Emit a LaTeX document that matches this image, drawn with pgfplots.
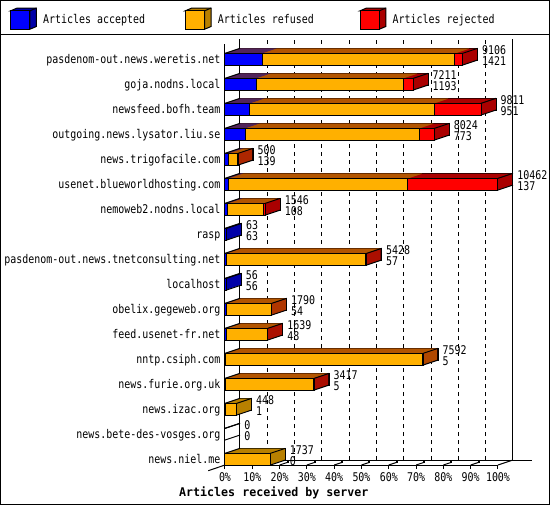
\documentclass[border=0pt]{standalone}
\usepackage{pgfplots}
\pgfplotsset{compat=1.18}
\usepackage{pgfplotstable}
\usepackage{fontspec}
\newfontfamily\chartfont[FakeStretch=0.83]{DejaVu Sans Mono}
\newfontfamily\chartbold[FakeStretch=0.97]{DejaVu Sans Mono}
\newcommand\cf{\chartfont\fontsize{12}{11.6}\selectfont}
\definecolor{acc}{RGB}{0,0,255}
\definecolor{dkacc}{RGB}{0,0,168}
\definecolor{ref}{RGB}{255,176,0}
\definecolor{dkref}{RGB}{184,128,0}
\definecolor{rej}{RGB}{255,0,0}
\definecolor{dkrej}{RGB}{170,0,0}

\pgfdeclareplotmark{rdiag}{%
  \pgfpathmoveto{\pgfpoint{0pt}{5.85pt}}\pgfpathlineto{\pgfpoint{15pt}{10.85pt}}%
  \pgfpathmoveto{\pgfpoint{0pt}{-5.85pt}}\pgfpathlineto{\pgfpoint{15pt}{-0.85pt}}%
  \pgfusepathqstroke}
\pgfdeclareplotmark{ldiag}{%
  \pgfpathmoveto{\pgfpoint{0pt}{5.85pt}}\pgfpathlineto{\pgfpoint{15pt}{10.85pt}}%
  \pgfusepathqstroke}

% pos = row from bottom; acc/ref/rej = articles accepted/refused/rejected
\pgfplotstableread{
pos acc ref rej total
16 1421 7390 295 9106
15 1193 5630 388 7211
14 951 7066 1794 9811
13 773 6680 571 8024
12 139 340 21 500
11 137 6869 3456 10462
10 108 1357 81 1546
9 63 0 0 63
8 57 5321 50 5428
7 56 0 0 56
6 54 1711 25 1790
5 48 1566 25 1639
4 5 7564 23 7592
3 5 3370 42 3417
2 1 447 0 448
1 0 0 0 0
0 0 1737 0 1737
}\data

\pgfplotsset{
  bars/.style={xbar, bar width=11.7pt, bar shift=0pt, unbounded coords=discard},
  cpy/.style={bars, draw=none, xshift=#1pt, yshift=#1*0.33333pt, forget plot},
  front/.style={bars, draw=black, line width=1pt},
  table/xrej/.style={x expr={\thisrow{rej}==0 ? nan : \thisrow{total}}, y=pos},
  table/xref/.style={x expr={\thisrow{ref}==0 ? nan : \thisrow{acc}+\thisrow{ref}}, y=pos},
  table/xacc/.style={x expr={\thisrow{acc}==0 ? nan : \thisrow{acc}}, y=pos},
}

\begin{document}
\begin{tikzpicture}
\useasboundingbox (0,0) rectangle (550pt,-505pt);
\begin{axis}[
  at={(225pt,-465pt)}, anchor=south west,
  scale only axis, width=273pt, height=420.5pt,
  xmin=0, xmax=10462, ymin=-0.232, ymax=16.588,
  clip=false, scaled x ticks=false,
  axis x line*=bottom, axis y line*=left,
  axis line style={black, line width=1pt, -},
  xtick={0,1046.2,2092.4,3138.6,4184.8,5231,6277.2,7323.4,8369.6,9415.8,10462},
  xticklabels={0\%,10\%,20\%,30\%,40\%,50\%,60\%,70\%,80\%,90\%,100\%},
  xtick align=outside, major tick length=4pt,
  x tick style={black, line width=1pt},
  ytick={0,...,16},
  yticklabels={news.niel.me,news.bete-des-vosges.org,news.izac.org,news.furie.org.uk,nntp.csiph.com,feed.usenet-fr.net,obelix.gegeweb.org,localhost,pasdenom-out.news.tnetconsulting.net,rasp,nemoweb2.nodns.local,usenet.blueworldhosting.com,news.trigofacile.com,outgoing.news.lysator.liu.se,newsfeed.bofh.team,goja.nodns.local,pasdenom-out.news.weretis.net},
  y tick style={draw=none},
  yticklabel style={font=\cf, anchor=base east, inner sep=0pt, xshift=-4.5pt, yshift=-4.3pt},
  xticklabel style={font=\cf, anchor=base, inner sep=0pt, yshift=-12.7pt},
  xlabel={Articles received by server},
  xlabel style={font=\chartbold\bfseries\fontsize{12}{14}\selectfont, at={(axis description cs:0.5,0)}, anchor=base, inner sep=0pt, xshift=-87.7pt, yshift=-31.5pt},
  legend columns=3, reverse legend, legend cell align=left,
  legend style={at={(axis description cs:-0.78755,1.0615)}, anchor=west, draw=none, fill=none, inner sep=0pt, font=\cf, nodes={inner sep=0pt},
    /tikz/every odd column/.append style={column sep=6.3pt},
    /tikz/every even column/.append style={column sep=11.7pt}},
]
% back wall, floor and grid
\draw[line width=1pt] ([xshift=15pt,yshift=5pt]axis cs:0,-0.232) -- ([xshift=15pt,yshift=5pt]axis cs:0,16.588);
\draw[line width=1pt] ([xshift=15pt,yshift=5pt]axis cs:10462,-0.232) -- ([xshift=15pt,yshift=5pt]axis cs:10462,16.588);
\draw[line width=1pt] ([xshift=15pt,yshift=5pt]axis cs:0,-0.232) -- ([xshift=33.7pt,yshift=5pt]axis cs:10462,-0.232);
\draw[line width=1pt] (axis cs:10462,-0.232) -- ([xshift=15pt,yshift=5pt]axis cs:10462,-0.232);
\draw[line width=1pt] ([xshift=-16.7pt,yshift=-5.7pt]axis cs:0,-0.232) -- (axis cs:0,-0.232);
\pgfplotsinvokeforeach{1046.2,2092.4,3138.6,4184.8,5231,6277.2,7323.4,8369.6,9415.8}{
  \draw[line width=1pt, dash pattern=on 4pt off 4pt] ([xshift=15pt,yshift=5pt]axis cs:#1,-0.232) -- ([xshift=15pt,yshift=5pt]axis cs:#1,16.588);
  \draw[line width=1pt] (axis cs:#1,-0.232) -- ([xshift=8pt,yshift=2.67pt]axis cs:#1,-0.232);
  \fill ([xshift=7pt,yshift=1.6pt]axis cs:#1,-0.232) rectangle ([xshift=9pt,yshift=3.6pt]axis cs:#1,-0.232);
}
% 3D depth of the bars (back copy with outline, then copies towards the front)
\addplot[cpy=15, draw=black, line width=1pt, fill=dkrej] table[xrej]{\data};
\addplot[cpy=15, draw=black, line width=1pt, fill=dkref] table[xref]{\data};
\addplot[cpy=15, draw=black, line width=1pt, fill=dkacc] table[xacc]{\data};
\pgfplotsinvokeforeach{14,13,...,1}{
  \addplot[cpy=#1, fill=dkrej] table[xrej]{\data};
  \addplot[cpy=#1, fill=dkref] table[xref]{\data};
  \addplot[cpy=#1, fill=dkacc] table[xacc]{\data};
}
% front faces
\addplot[front, fill=rej,
  legend image code/.code={
    \draw[line width=1pt, fill=dkrej] (0pt,9.2pt) -- (6.3pt,11.9pt) -- (25.7pt,11.9pt) -- (25.7pt,-6.5pt) -- (19.3pt,-9.2pt) -- (19.3pt,9.2pt) -- cycle;
    \draw[line width=1pt] (19.3pt,9.2pt) -- (25.7pt,11.9pt);
    \draw[line width=1pt, fill=rej] (0pt,-9.2pt) rectangle (19.3pt,9.2pt);}
  ] table[xrej]{\data};
\addlegendentry{\makebox[130pt][l]{Articles rejected}}
\addplot[front, fill=ref,
  legend image code/.code={
    \draw[line width=1pt, fill=dkref] (0pt,9.2pt) -- (6.3pt,11.9pt) -- (25.7pt,11.9pt) -- (25.7pt,-6.5pt) -- (19.3pt,-9.2pt) -- (19.3pt,9.2pt) -- cycle;
    \draw[line width=1pt] (19.3pt,9.2pt) -- (25.7pt,11.9pt);
    \draw[line width=1pt, fill=ref] (0pt,-9.2pt) rectangle (19.3pt,9.2pt);}
  ] table[xref]{\data};
\addlegendentry{\makebox[130pt][l]{Articles refused}}
\addplot[front, fill=acc,
  legend image code/.code={
    \draw[line width=1pt, fill=dkacc] (0pt,9.2pt) -- (6.3pt,11.9pt) -- (25.7pt,11.9pt) -- (25.7pt,-6.5pt) -- (19.3pt,-9.2pt) -- (19.3pt,9.2pt) -- cycle;
    \draw[line width=1pt] (19.3pt,9.2pt) -- (25.7pt,11.9pt);
    \draw[line width=1pt, fill=acc] (0pt,-9.2pt) rectangle (19.3pt,9.2pt);}
  ] table[xacc]{\data};
\addlegendentry{\makebox[130pt][l]{Articles accepted}}
% edges and value labels (total offered / accepted)
\addplot[only marks, mark=rdiag, line width=1pt, draw=black, forget plot,
  point meta=explicit symbolic,
  visualization depends on={\thisrow{acc} \as \acc},
  nodes near coords={\pgfplotspointmeta\\\pgfmathprintnumber[fixed,precision=0,1000 sep={},assume math mode=true]{\acc}},
  every node near coord/.append style={font=\cf, anchor=west, align=left, inner sep=0pt, xshift=19pt, yshift=3.7pt}
  ] table[x=total, y=pos, meta=total]{\data};
\addplot[only marks, mark=ldiag, line width=1pt, draw=black, forget plot] table[x expr=0, y=pos]{\data};
\end{axis}
\draw[line width=1pt] (0.5pt,-0.5pt) rectangle (549.5pt,-504.5pt);
\draw[line width=1pt] (0pt,-34.8pt) -- (550pt,-34.8pt);
\end{tikzpicture}
\end{document}
